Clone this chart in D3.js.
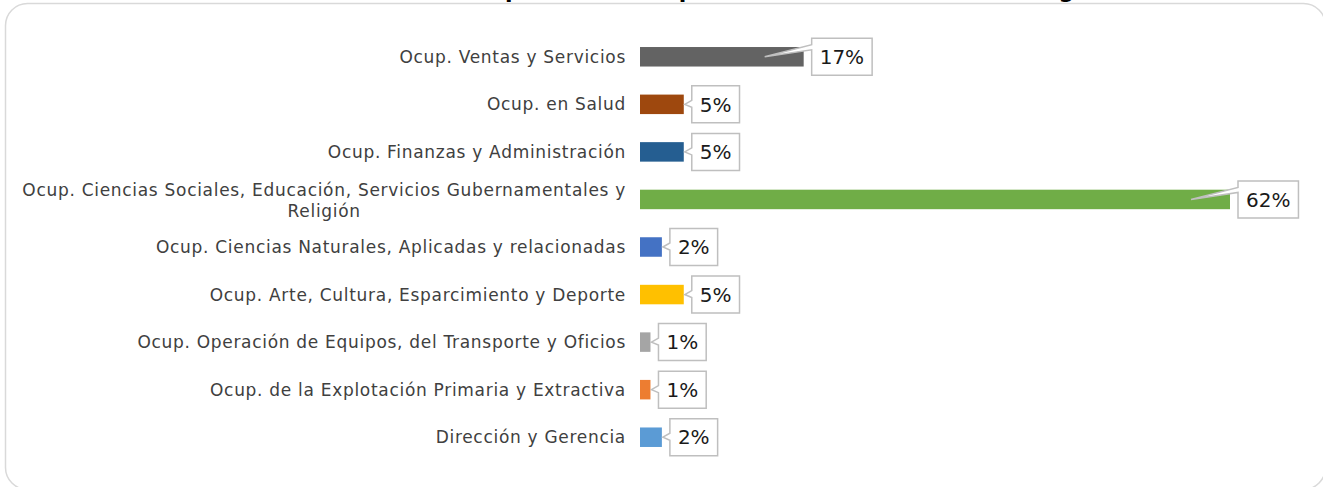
<html>
  <head>
    <meta charset="utf-8">
    <script src="https://d3js.org/d3.v7.min.js"></script>
    <style>
      body { margin: 0; background: #fff; }
    </style>
    <script type="text/javascript">
      // datos del gráfico (porcentaje por grupo de ocupación)
      var categorias = [
        "Ocup. Ventas y Servicios",
        "Ocup. en Salud",
        "Ocup. Finanzas y Administración",
        "Ocup. Ciencias Sociales, Educación, Servicios Gubernamentales y Religión",
        "Ocup. Ciencias Naturales, Aplicadas y relacionadas",
        "Ocup. Arte, Cultura, Esparcimiento y Deporte",
        "Ocup. Operación de Equipos, del Transporte y Oficios",
        "Ocup. de la Explotación Primaria y Extractiva",
        "Dirección y Gerencia"
      ]
      var valores = [17.2, 4.6, 4.6, 62.0, 2.3, 4.6, 1.1, 1.1, 2.3]
      var colores = ["#636363", "#9e480e", "#255e91", "#70ad47", "#4472c4", "#ffc000", "#a5a5a5", "#ed7d31", "#5b9bd5"]
      var titulo = "Distribución de ocupación actual por área de formación de los egresados"

      window.onload = function () {
        var width = 1323
        var height = 487
        var barX = 640 // inicio de las barras

        var svg = d3.select("body").append("svg")
          .attr("width", width)
          .attr("height", height)

        // marco redondeado del gráfico
        svg.append("rect")
          .attr("x", 5.5).attr("y", 3.5)
          .attr("width", 1320).attr("height", 486)
          .attr("rx", 22).attr("ry", 22)
          .attr("fill", "#fff")
          .attr("stroke", "#d9d9d9")
          .attr("stroke-width", 1.5)

        // título (cortado arriba, como en la imagen)
        var t = svg.append("text")
          .attr("x", 250).attr("y", -2)
          .attr("font-family", "DejaVu Sans")
          .attr("font-weight", "bold")
          .attr("font-size", "22px")
          .attr("fill", "#000")
          .text(titulo)
        var px = t.node().getStartPositionOfChar(titulo.indexOf("ocupación") + 3).x
        t.attr("x", 250 + (505 - px))

        var x = d3.scaleLinear().domain([0, 70]).range([barX, barX + 70 * 590 / 62])
        var y = d3.scaleBand().domain(categorias).range([33, 461])
          .paddingInner(0.59).paddingOuter(0.295)

        // barras
        svg.selectAll("rect.bar")
          .data(valores)
          .enter()
          .append("rect")
          .attr("class", "bar")
          .attr("x", x(0))
          .attr("y", function (d, i) { return y(categorias[i]) })
          .attr("width", function (d) { return x(d) - x(0) })
          .attr("height", y.bandwidth())
          .attr("fill", function (d, i) { return colores[i] })

        // etiquetas de categoría
        var labels = svg.selectAll("text.cat")
          .data(categorias)
          .enter()
          .append("text")
          .attr("class", "cat")
          .attr("font-family", "DejaVu Sans")
          .attr("font-size", "17px")
          .attr("letter-spacing", "0.7px")
          .attr("fill", "#404040")
          .attr("text-anchor", "end")
          .attr("x", 626)
          .attr("y", function (d) { return y(d) + y.bandwidth() / 2 })
          .attr("dy", "0.35em")
          .text(function (d) { return d })

        // la etiqueta larga va en dos líneas centradas
        labels.filter(function (d) { return d.indexOf("Religión") >= 0 }).each(function (d) {
          var el = d3.select(this)
          var cy = y(d) + y.bandwidth() / 2
          var l1 = d.replace(" Religión", "")
          el.text(l1)
          var w = this.getComputedTextLength()
          var cx = 626 - w / 2
          el.text(null).attr("text-anchor", "middle").attr("dy", null)
          el.append("tspan").attr("x", cx).attr("y", cy - 9).attr("dy", "0.35em").text(l1)
          el.append("tspan").attr("x", cx).attr("y", cy + 12).attr("dy", "0.35em").text("Religión")
        })

        // etiquetas de datos tipo globo
        var g = svg.selectAll("g.callout")
          .data(valores)
          .enter()
          .append("g")
          .attr("class", "callout")

        g.each(function (d, i) {
          var grp = d3.select(this)
          var cy = y(categorias[i]) + y.bandwidth() / 2
          var end = x(d)
          var txt = grp.append("text")
            .attr("font-family", "DejaVu Sans")
            .attr("font-size", "20px")
            .attr("fill", "#1a1a1a")
            .attr("text-anchor", "middle")
            .text(Math.round(d) + "%")
          var w = txt.node().getComputedTextLength() + 16
          var left = end + 8
          var top = cy - 18.5
          var bottom = cy + 18.5
          var tip, b1, b2
          if (end - 39 >= x(0) + 5) {
            tip = end - 39; b1 = cy - 12; b2 = cy - 7
          } else {
            tip = end + 1; b1 = cy - 4; b2 = cy + 3
          }
          var p = "M" + left + "," + top + "H" + (left + w) + "V" + bottom + "H" + left +
            "V" + b2 + "L" + tip + "," + cy + "L" + left + "," + b1 + "Z"
          grp.insert("path", "text")
            .attr("d", p)
            .attr("fill", "#fff")
            .attr("stroke", "#bfbfbf")
            .attr("stroke-width", 1.5)
            .attr("stroke-linejoin", "miter")
          txt.attr("x", left + w / 2).attr("y", cy).attr("dy", "0.36em")
        })
      }
    </script>
  </head>
  <body>
  </body>
</html>
